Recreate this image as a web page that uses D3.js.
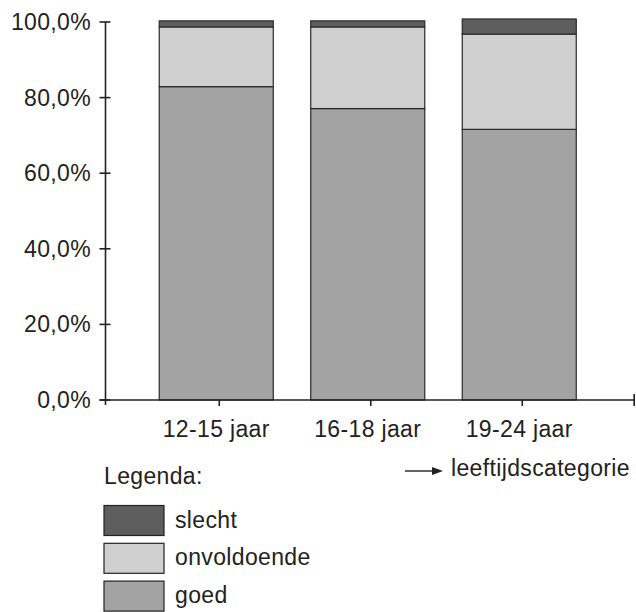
<!DOCTYPE html>
<html>
<head>
<meta charset="utf-8">
<script src="https://cdn.jsdelivr.net/npm/d3@7"></script>
<style>
html,body{margin:0;padding:0;background:#fff;}
svg text{font-family:"Liberation Sans",Arial,Helvetica,sans-serif;fill:#222;letter-spacing:0.35px;}
</style>
</head>
<body>
<svg id="chart" width="636" height="612"></svg>
<script>
const categories = ["12-15 jaar", "16-18 jaar", "19-24 jaar"];
const goed = [82.9, 77.1, 71.6];
const onvoldoende = [15.8, 21.6, 25.2];
const slecht = [1.6, 1.6, 4.0];
const yTicks = [0, 20, 40, 60, 80, 100];
const seriesNames = ["goed", "onvoldoende", "slecht"];
const legendOrder = ["slecht", "onvoldoende", "goed"];
const colors = {goed: "#a3a3a3", onvoldoende: "#d0d0d0", slecht: "#5e5e5e"};
const xTitle = "leeftijdscategorie";
const legendTitle = "Legenda:";

const svg = d3.select("#chart");
const axisX = 105.5, axisRight = 635;
const y = d3.scaleLinear().domain([0, 100]).range([400, 22]);
const x = d3.scaleBand().domain(categories).range([140.5, 595]).paddingInner(0.2475).paddingOuter(0.12375);
const fmt = v => d3.format(".1f")(v).replace(".", ",") + "%";

const rows = categories.map((c, i) => ({cat: c, goed: goed[i], onvoldoende: onvoldoende[i], slecht: slecht[i]}));
const stack = d3.stack().keys(seriesNames)(rows);

// bars
svg.append("g").selectAll("g").data(stack).join("g")
  .attr("fill", d => colors[d.key])
  .selectAll("rect").data(d => d).join("rect")
  .attr("x", d => x(d.data.cat))
  .attr("width", x.bandwidth())
  .attr("y", d => y(d[1]))
  .attr("height", d => y(d[0]) - y(d[1]))
  .attr("stroke", "#2a2a2a")
  .attr("stroke-width", 1.2);

// y axis
const gy = svg.append("g").attr("stroke", "#222").attr("stroke-width", 1.6);
gy.append("line").attr("x1", axisX).attr("x2", axisX).attr("y1", y(100)).attr("y2", y(0) + 5);
gy.selectAll("line.t").data(yTicks).join("line").attr("class", "t")
  .attr("x1", axisX - 6).attr("x2", axisX + 5)
  .attr("y1", d => y(d)).attr("y2", d => y(d));
svg.append("g").selectAll("text").data(yTicks).join("text")
  .attr("x", 91).attr("y", d => y(d)).attr("dy", "0.35em")
  .attr("text-anchor", "end").attr("font-size", 23).text(fmt);

// x axis
const gx = svg.append("g").attr("stroke", "#222").attr("stroke-width", 1.6);
gx.append("line").attr("x1", axisX - 6).attr("x2", axisRight).attr("y1", y(0)).attr("y2", y(0));
gx.append("line").attr("x1", axisRight - 0.8).attr("x2", axisRight - 0.8).attr("y1", y(0) - 6).attr("y2", y(0) + 6);
gx.selectAll("line.t").data(categories).join("line").attr("class", "t")
  .attr("x1", d => x(d) + x.bandwidth() / 2 + 3).attr("x2", d => x(d) + x.bandwidth() / 2 + 3)
  .attr("y1", y(0)).attr("y2", y(0) + 6);
svg.append("g").selectAll("text").data(categories).join("text")
  .attr("x", d => x(d) + x.bandwidth() / 2).attr("y", 437)
  .attr("text-anchor", "middle").attr("font-size", 23).text(d => d);

// x title with arrow
svg.append("line").attr("x1", 405).attr("x2", 434).attr("y1", 471).attr("y2", 471)
  .attr("stroke", "#222").attr("stroke-width", 1.4);
svg.append("path").attr("d", "M443,471 L432,467 L432,475 Z").attr("fill", "#222");
svg.append("text").attr("x", 451).attr("y", 476).attr("font-size", 23).text(xTitle);

// legend
svg.append("text").attr("x", 104).attr("y", 484).attr("font-size", 23).text(legendTitle);
const lg = svg.append("g").selectAll("g").data(legendOrder).join("g")
  .attr("transform", (d, i) => `translate(104,${505.5 + i * 37.8})`);
lg.append("rect").attr("width", 60).attr("height", 30)
  .attr("fill", d => colors[d]).attr("stroke", "#222").attr("stroke-width", 1.2);
lg.append("text").attr("x", 71).attr("y", 22).attr("font-size", 23).text(d => d);
</script>
</body>
</html>
